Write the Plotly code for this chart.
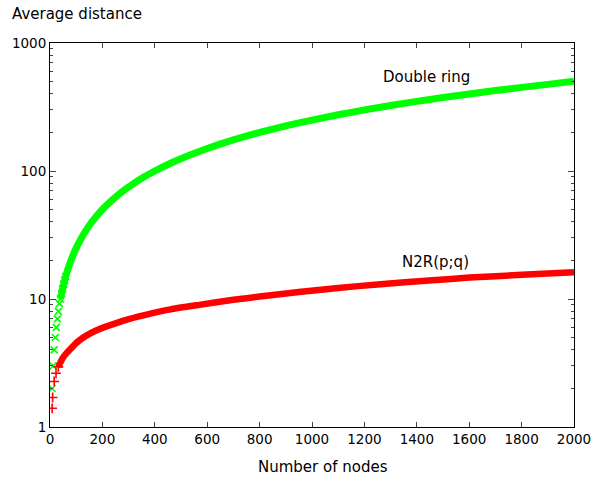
import plotly.graph_objects as go

# ---- data ----
# Double ring: discrete early markers, then dense band
dr_mark_nodes = [8, 12, 16, 20, 24, 28, 32, 36, 40, 44, 48, 52, 56, 60]
dr_mark_dist = [2.0, 3.0, 4.0, 5.0, 6.0, 7.0, 8.0, 9.2, 10, 11, 12, 13, 14, 15]
dr_band_nodes = [40, 48, 56, 64, 72, 80, 92, 104, 120, 140, 160, 180, 200, 240, 280, 320,
                 360, 400, 460, 520, 600, 700, 800, 900, 1000, 1100, 1200, 1300, 1400,
                 1500, 1600, 1700, 1800, 1900, 2000]
dr_band_dist = [10, 12, 14, 16, 18, 20, 23, 26, 30, 35, 40, 45, 50, 60, 70, 80,
                90, 100, 115, 130, 150, 175, 200, 225, 250, 275, 300, 325, 350,
                375, 400, 425, 450, 475, 502]

# N2R(p;q): discrete early markers, then dense band
n2r_mark_nodes = [8, 10, 16, 23, 32]
n2r_mark_dist = [1.4, 1.7, 2.27, 2.63, 2.95]
n2r_band_nodes = [32, 40, 48, 64, 80, 96, 112, 140, 170, 200, 250, 300, 380, 460, 570,
                  700, 800, 950, 1100, 1250, 1460, 1600, 1800, 2000]
n2r_band_dist = [2.95, 3.2, 3.45, 3.8, 4.1, 4.45, 4.75, 5.2, 5.6, 5.95, 6.45, 6.95, 7.65,
                 8.3, 9.0, 9.85, 10.45, 11.35, 12.2, 13.0, 14.0, 14.7, 15.45, 16.2]

x_ticks = [0, 200, 400, 600, 800, 1000, 1200, 1400, 1600, 1800, 2000]
y_ticks = [1, 10, 100, 1000]
y_tick_text = ["1", "10", "100", "1000"]
y_minor = [m * 10 ** e for e in range(0, 3) for m in range(2, 10)]

GREEN = "#00ff00"
RED = "#ff0000"
FONT = "DejaVu Sans"

fig = go.Figure()
fig.add_trace(go.Scatter(x=dr_band_nodes, y=dr_band_dist, mode="lines",
                         line=dict(color=GREEN, width=7, shape="spline", smoothing=0.6),
                         showlegend=False))
fig.add_trace(go.Scatter(x=dr_mark_nodes, y=dr_mark_dist, mode="markers",
                         marker=dict(symbol="x-thin", size=7, color=GREEN,
                                     line=dict(color=GREEN, width=1.6)),
                         showlegend=False))
fig.add_trace(go.Scatter(x=n2r_band_nodes, y=n2r_band_dist, mode="lines",
                         line=dict(color=RED, width=6.5, shape="spline", smoothing=0.6),
                         showlegend=False))
fig.add_trace(go.Scatter(x=n2r_mark_nodes, y=n2r_mark_dist, mode="markers",
                         marker=dict(symbol="cross-thin", size=7, color=RED,
                                     line=dict(color=RED, width=1.6)),
                         showlegend=False))

W, H = 596, 482
l, r, t, b = 50, 22, 43, 55
pw, ph = W - l - r, H - t - b

fig.update_layout(
    width=W, height=H,
    margin=dict(l=l, r=r, t=t, b=b, autoexpand=False),
    paper_bgcolor="white", plot_bgcolor="white",
    font=dict(family=FONT, size=15, color="black"),
    xaxis=dict(range=[0, 2000], tickvals=x_ticks, ticks="inside", ticklen=5,
               showline=True, linecolor="black", linewidth=1, mirror="allticks",
               showgrid=False, zeroline=False, tickfont=dict(size=13.5),
               automargin=False),
    yaxis=dict(type="log", range=[0, 3], tickvals=y_ticks, ticktext=y_tick_text,
               ticks="inside", ticklen=6, showline=True, linecolor="black",
               linewidth=1, mirror="allticks", showgrid=False, zeroline=False,
               tickfont=dict(size=13.5), automargin=False,
               minor=dict(tickvals=y_minor, ticks="inside", ticklen=3, showgrid=False)),
    annotations=[
        dict(text="Average distance", x=(10 - l) / pw, y=(H - b - 14) / ph,
             xref="paper", yref="paper",
             showarrow=False, xanchor="left", yanchor="middle"),
        dict(text="Number of nodes", x=(323 - l) / pw, y=(H - b - 467) / ph,
             xref="paper", yref="paper",
             showarrow=False, xanchor="center", yanchor="middle"),
        dict(text="Double ring", x=1265, y=2.732, xref="x", yref="y",
             showarrow=False, xanchor="left", yanchor="middle"),
        dict(text="N2R(p;q)", x=1337, y=1.287, xref="x", yref="y",
             showarrow=False, xanchor="left", yanchor="middle"),
    ],
)

fig.write_html("out.html", config={"displayModeBar": False},
               post_script="document.body.style.margin='0';document.body.style.overflow='hidden';")
